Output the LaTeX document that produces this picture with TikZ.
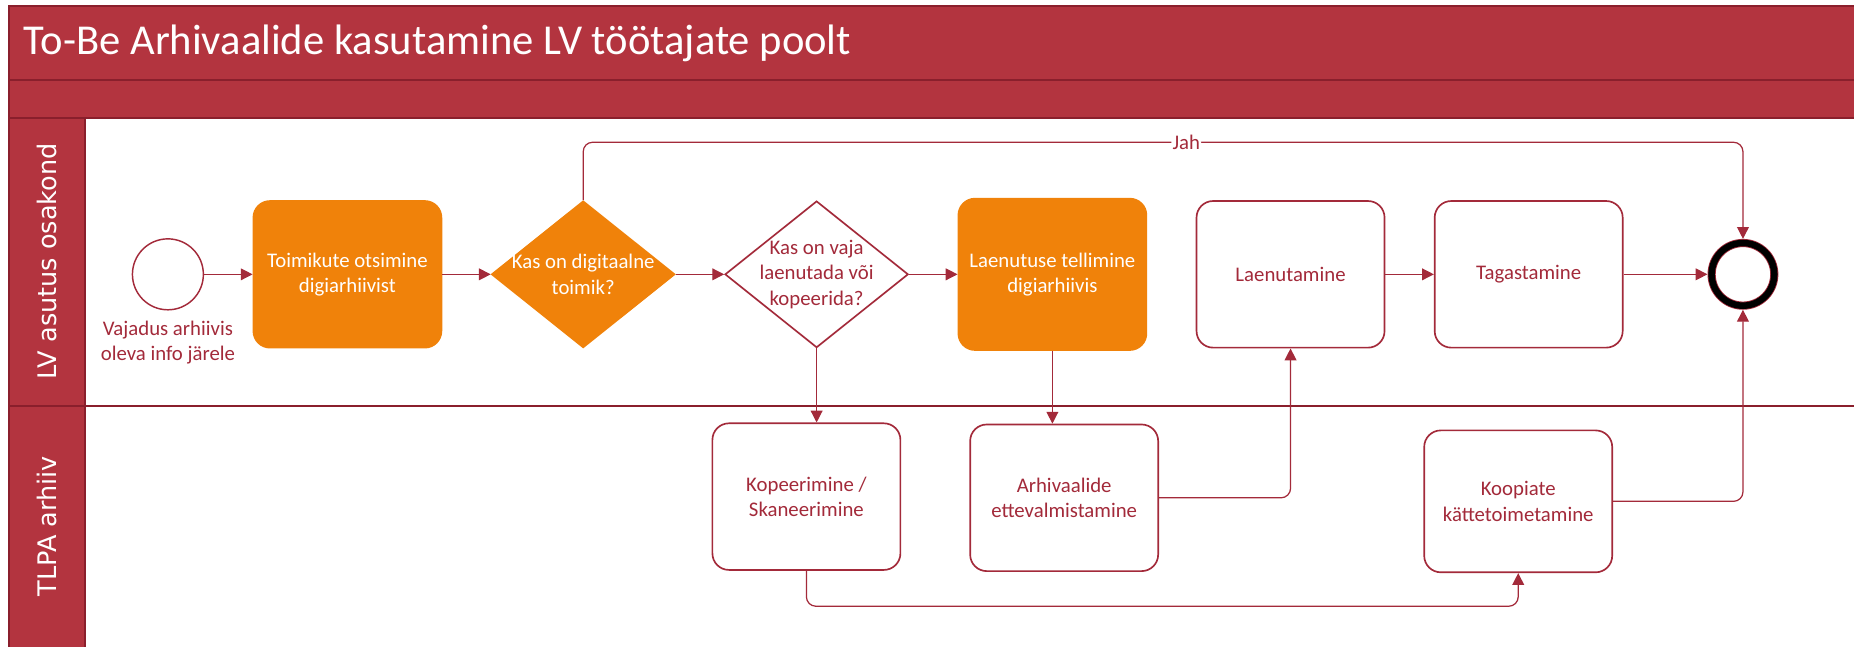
\documentclass[tikz,border=0pt]{standalone}
\usepackage{fontspec}
\setmainfont{Carlito}
\newfontfamily\lanefont{DejaVu Sans}
\usetikzlibrary{positioning, shapes.geometric, arrows.meta}
\definecolor{bandred}{HTML}{B3343F}
\definecolor{banddark}{HTML}{8A1F2C}
\definecolor{flowred}{HTML}{A32A3A}
\definecolor{taskorange}{HTML}{F0820A}
\tikzset{
	>={Triangle[length=2mm, width=2mm]},
	node distance=8.2mm,
	every node/.style={font=\fontsize{10}{12.2}\selectfont},
	task/.style={rectangle, rounded corners=2.8mm, draw=flowred, line width=0.8pt,
		fill=white, text=flowred, align=center,
		minimum width=31.8mm, minimum height=24.8mm, inner sep=0},
	otask/.style={task, draw=taskorange, fill=taskorange, text=white},
	gate/.style={diamond, draw=flowred, line width=0.8pt, fill=white,
		minimum width=31mm, minimum height=24.8mm, inner sep=0},
	ogate/.style={gate, draw=taskorange, fill=taskorange},
	startev/.style={circle, draw=flowred, line width=0.7pt, fill=white,
		minimum size=12mm, inner sep=0},
	endev/.style={circle, draw=flowred, line width=0.4pt, double=black,
		double distance=1.1mm, fill=white, minimum size=10.6mm, inner sep=0, outer sep=0.7mm},
	flow/.style={->, draw=flowred, line width=0.6pt, rounded corners=1.6mm},
	lanetxt/.style={rotate=90, text=white, font=\lanefont\fontsize{12.3}{14}\selectfont},
	bandline/.style={draw=banddark, line width=1pt}
}

\begin{document}
\begin{tikzpicture}[x=0.2mm, y=-0.2mm]
	\useasboundingbox (0,0) rectangle (1568,547);
	
	% pool header and lanes
	\fill[bandred] (7.5,5) rectangle (1568,100);
	\fill[bandred] (7.5,100) rectangle (72,547);
	\draw[bandline] (1568,5) -- (7.5,5) -- (7.5,547);
	\draw[bandline] (7.5,68) -- (1568,68);
	\draw[bandline] (7.5,100) -- (1568,100);
	\draw[bandline] (72,100) -- (72,547);
	\draw[bandline] (7.5,343) -- (1568,343);
	
	\node[anchor=west, text=white, font=\fontsize{20.5}{24}\selectfont] (title) at (14,37) {To-Be Arhivaalide kasutamine LV töötajate poolt};
	\node[lanetxt] (lane1) at (40,221) {LV asutus osakond};
	\node[lanetxt] (lane2) at (40,445) {TLPA arhiiv};
	
	% LV asutus osakond
	\node[startev, label={[align=center, text=flowred, label distance=0.5mm]below:{Vajadus arhiivis\\oleva info järele}}] (s0) at (142,232) {};
	\node[otask, right=of s0] (t1) {Toimikute otsimine\\digiarhiivist};
	\node[ogate, right=of t1, label={[align=center, text=white]center:{Kas on digitaalne\\toimik?}}] (g1) {};
	\node[gate, right=of g1, label={[align=center, text=flowred]center:{Kas on vaja\\laenutada või\\kopeerida?}}] (g2) {};
	\node[otask, right=of g2, minimum height=25.6mm] (t2) {Laenutuse tellimine\\digiarhiivis};
	\node[task, right=of t2] (t3) {Laenutamine};
	\node[task, right=of t3] (t4) {Tagastamine};
	\node[endev, right=14.2mm of t4] (e0) {};
	
	% TLPA arhiiv
	\node[task] (t5) at (682,420) {Kopeerimine /\\Skaneerimine};
	\node[task] (t6) at (900,421) {Arhivaalide\\ettevalmistamine};
	\node[task, minimum height=24mm] (t7) at (1284,424) {Koopiate\\kättetoimetamine};
	
	\draw[flow] (s0) -- (t1);
	\draw[flow] (t1) -- (g1);
	\draw[flow] (g1) -- (g2);
	\draw[flow] (g2) -- (t2);
	\draw[flow] (t3) -- (t4);
	\draw[flow] (t4) -- (e0);
	\draw[flow] (g1.north) -- ++(0,-49) -| node[pos=0.26, fill=white, inner sep=0.5pt, text=flowred] {Jah} (e0.north);
	\draw[flow] (g2.south) -- (g2.south |- t5.north);
	\draw[flow] (t2.south) -- (t2.south |- t6.north);
	\draw[flow] (t6.east) -| (t3.south);
	\draw[flow] (t5.south) -- ++(0,30) -| (t7.south);
	\draw[flow] (t7.east) -| (e0.south);
	
\end{tikzpicture}
\end{document}
